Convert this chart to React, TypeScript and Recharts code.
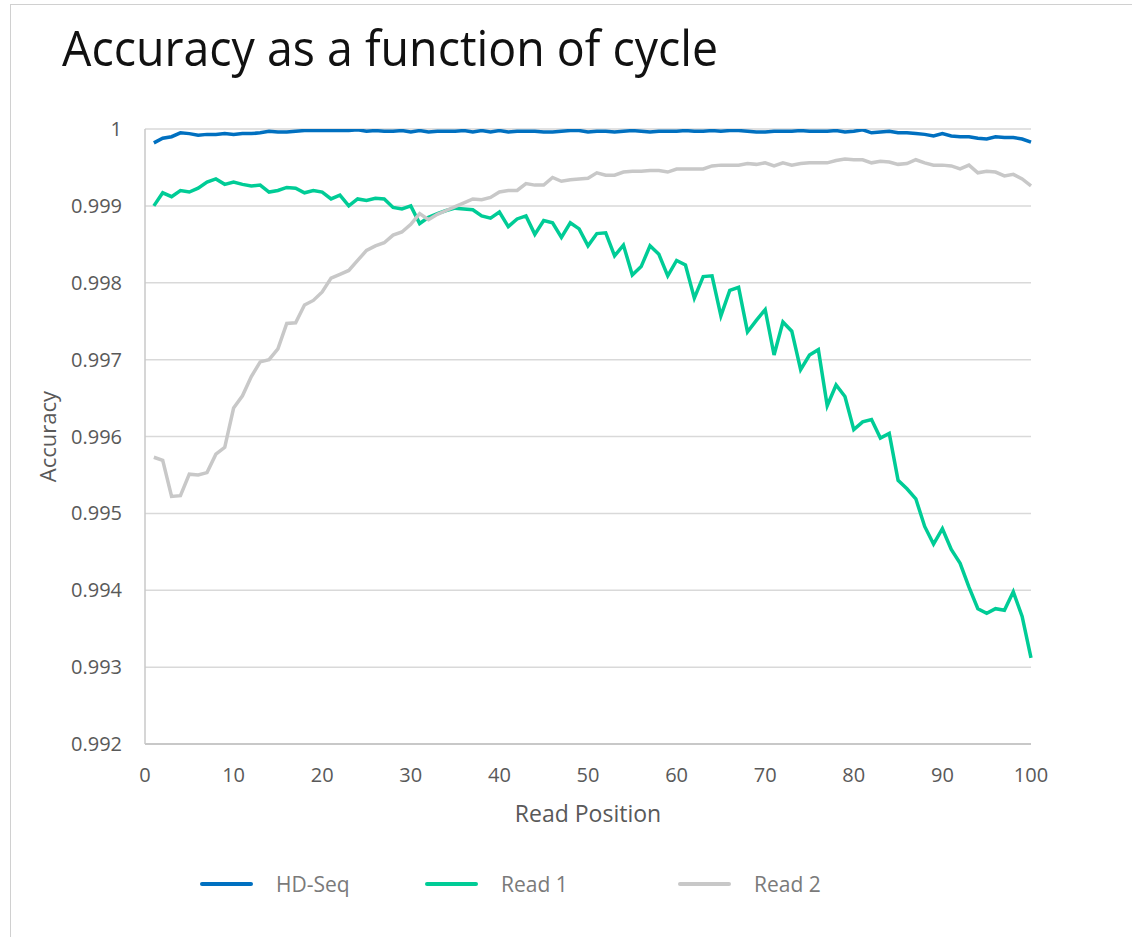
import { LineChart, Line, XAxis, YAxis, CartesianGrid, Legend } from 'recharts';

const FONT = '"Open Sans", "Noto Sans", sans-serif';

const readPositions = Array.from({ length: 100 }, (_, i) => i + 1);

const hdSeq = [
  0.99982, 0.99988, 0.9999, 0.99995, 0.99994, 0.99992, 0.99993, 0.99993, 0.99994, 0.99993,
  0.99994, 0.99994, 0.99995, 0.99997, 0.99996, 0.99996, 0.99997, 0.99998, 0.99998, 0.99998,
  0.99998, 0.99998, 0.99998, 0.99999, 0.99997, 0.99998, 0.99997, 0.99997, 0.99998, 0.99996,
  0.99998, 0.99996, 0.99997, 0.99997, 0.99997, 0.99998, 0.99996, 0.99998, 0.99996, 0.99998,
  0.99996, 0.99997, 0.99997, 0.99997, 0.99996, 0.99996, 0.99997, 0.99998, 0.99998, 0.99996,
  0.99997, 0.99997, 0.99996, 0.99997, 0.99998, 0.99997, 0.99996, 0.99997, 0.99997, 0.99997,
  0.99998, 0.99997, 0.99997, 0.99998, 0.99997, 0.99998, 0.99998, 0.99997, 0.99996, 0.99996,
  0.99997, 0.99997, 0.99997, 0.99998, 0.99997, 0.99997, 0.99997, 0.99998, 0.99996, 0.99997,
  0.99999, 0.99995, 0.99996, 0.99997, 0.99995, 0.99995, 0.99994, 0.99993, 0.99991, 0.99994,
  0.99991, 0.9999, 0.9999, 0.99988, 0.99987, 0.9999, 0.99989, 0.99989, 0.99987, 0.99983,
];

const read1 = [
  0.999, 0.99917, 0.99912, 0.9992, 0.99918, 0.99923, 0.99931, 0.99935, 0.99928, 0.99931,
  0.99928, 0.99926, 0.99927, 0.99918, 0.9992, 0.99924, 0.99923, 0.99917, 0.9992, 0.99918,
  0.99909, 0.99914, 0.999, 0.99909, 0.99907, 0.9991, 0.99909, 0.99898, 0.99896, 0.999,
  0.99877, 0.99885, 0.9989, 0.99894, 0.99897, 0.99896, 0.99895, 0.99887, 0.99884, 0.99892,
  0.99873, 0.99883, 0.99887, 0.99863, 0.99881, 0.99878, 0.99859, 0.99878, 0.9987, 0.99848,
  0.99864, 0.99865, 0.99835, 0.99849, 0.9981, 0.99821, 0.99848, 0.99837, 0.99809, 0.99829,
  0.99823, 0.9978, 0.99808, 0.99809, 0.99757, 0.9979, 0.99794, 0.99736, 0.99751, 0.99765,
  0.99706, 0.99749, 0.99737, 0.99687, 0.99706, 0.99713, 0.9964, 0.99667, 0.99652, 0.99609,
  0.99619, 0.99622, 0.99598, 0.99604, 0.99543, 0.99532, 0.99519, 0.99483, 0.9946, 0.9948,
  0.99453, 0.99435, 0.99404, 0.99376, 0.9937, 0.99376, 0.99374, 0.99398, 0.99366, 0.99312,
];

const read2 = [
  0.99573, 0.99569, 0.99522, 0.99523, 0.99551, 0.9955, 0.99553, 0.99577, 0.99586, 0.99637,
  0.99653, 0.99678, 0.99697, 0.997, 0.99714, 0.99747, 0.99748, 0.99771, 0.99777, 0.99788,
  0.99806, 0.99811, 0.99816, 0.99829, 0.99842, 0.99848, 0.99852, 0.99862, 0.99866, 0.99876,
  0.9989, 0.99882, 0.99889, 0.99894, 0.99899, 0.99904, 0.99909, 0.99908, 0.99911, 0.99918,
  0.9992, 0.9992, 0.99929, 0.99927, 0.99927, 0.99937, 0.99932, 0.99934, 0.99935, 0.99936,
  0.99943, 0.9994, 0.9994, 0.99944, 0.99945, 0.99945, 0.99946, 0.99946, 0.99944, 0.99948,
  0.99948, 0.99948, 0.99948, 0.99952, 0.99953, 0.99953, 0.99953, 0.99955, 0.99954, 0.99956,
  0.99952, 0.99956, 0.99953, 0.99955, 0.99956, 0.99956, 0.99956, 0.99959, 0.99961, 0.9996,
  0.9996, 0.99956, 0.99958, 0.99957, 0.99954, 0.99955, 0.9996, 0.99956, 0.99953, 0.99953,
  0.99952, 0.99948, 0.99953, 0.99943, 0.99945, 0.99944, 0.99939, 0.99941, 0.99935, 0.99926,
];

const xTicks = [0, 10, 20, 30, 40, 50, 60, 70, 80, 90, 100];
const yTicks = [0.992, 0.993, 0.994, 0.995, 0.996, 0.997, 0.998, 0.999, 1];

const series = [
  { key: 'hdSeq', name: 'HD-Seq', color: '#0070C0' },
  { key: 'read1', name: 'Read 1', color: '#00CC96' },
  { key: 'read2', name: 'Read 2', color: '#C8C8C8' },
];

const data = readPositions.map((pos, i) => ({
  pos,
  hdSeq: hdSeq[i],
  read1: read1[i],
  read2: read2[i],
}));

// legend item widths so the three entries land where the original puts them
const legendWidths = [225, 253, 200];

function ChartLegend() {
  return (
    <div style={{ display: 'flex', alignItems: 'center', height: 40, paddingLeft: 200, fontFamily: FONT }}>
      {series.map((s, i) => (
        <div key={s.key} style={{ display: 'flex', alignItems: 'center', width: legendWidths[i] }}>
          <div style={{ width: 53, height: 4, borderRadius: 2, background: s.color, marginRight: 23 }} />
          <span style={{ fontSize: 21, color: '#7a7a7a' }}>{s.name}</span>
        </div>
      ))}
    </div>
  );
}

function AccuracyLabel(props: any) {
  const { x, y, height } = props.viewBox;
  const cx = x + 47;
  const cy = y + height / 2;
  return (
    <text
      x={cx}
      y={cy}
      transform={`rotate(-90, ${cx}, ${cy})`}
      textAnchor="middle"
      dominantBaseline="central"
      fill="#595959"
      fontSize={22}
      fontFamily={FONT}
    >
      Accuracy
    </text>
  );
}

export default function App() {
  return (
    <div style={{ position: 'fixed', left: 0, top: 0, width: 1132, height: 937, overflow: 'hidden', background: '#fff' }}>
      <div style={{ position: 'absolute', left: 10, top: 4, width: 1200, height: 1000, border: '1.5px solid #d0d0d0' }} />
      <div
        style={{
          position: 'absolute',
          left: 62,
          top: 22,
          fontFamily: FONT,
          fontSize: 50,
          lineHeight: 1,
          color: '#111',
          whiteSpace: 'nowrap',
          transform: 'scaleX(0.93)',
          transformOrigin: 'left top',
        }}
      >
        Accuracy as a function of cycle
      </div>
      <div style={{ position: 'absolute', left: 0, top: 0 }}>
        <LineChart width={1132} height={937} data={data} margin={{ top: 129, right: 101, left: 0, bottom: 33 }}>
          <CartesianGrid vertical={false} stroke="#d9d9d9" strokeWidth={1.5} />
          <XAxis
            dataKey="pos"
            type="number"
            domain={[0, 100]}
            ticks={xTicks}
            height={120}
            tickLine={false}
            tickSize={0}
            tickMargin={24}
            axisLine={{ stroke: '#c8c8c8', strokeWidth: 2 }}
            tick={{ fill: '#595959', fontSize: 20, fontFamily: FONT }}
            label={{ value: 'Read Position', position: 'insideTop', offset: 62, fill: '#595959', fontSize: 23, fontFamily: FONT }}
          />
          <YAxis
            type="number"
            domain={[0.992, 1]}
            ticks={yTicks}
            allowDataOverflow
            width={145}
            tickLine={false}
            tickSize={0}
            tickMargin={23}
            axisLine={{ stroke: '#c8c8c8', strokeWidth: 1.5 }}
            tick={{ fill: '#595959', fontSize: 20, fontFamily: FONT }}
            tickFormatter={(v: number) => String(Number(v.toFixed(3)))}
            label={<AccuracyLabel />}
          />
          <Legend verticalAlign="bottom" align="left" content={() => <ChartLegend />} />
          {series.map((s) => (
            <Line
              key={s.key}
              type="linear"
              dataKey={s.key}
              name={s.name}
              stroke={s.color}
              strokeWidth={3.5}
              dot={false}
              isAnimationActive={false}
            />
          ))}
        </LineChart>
      </div>
    </div>
  );
}
